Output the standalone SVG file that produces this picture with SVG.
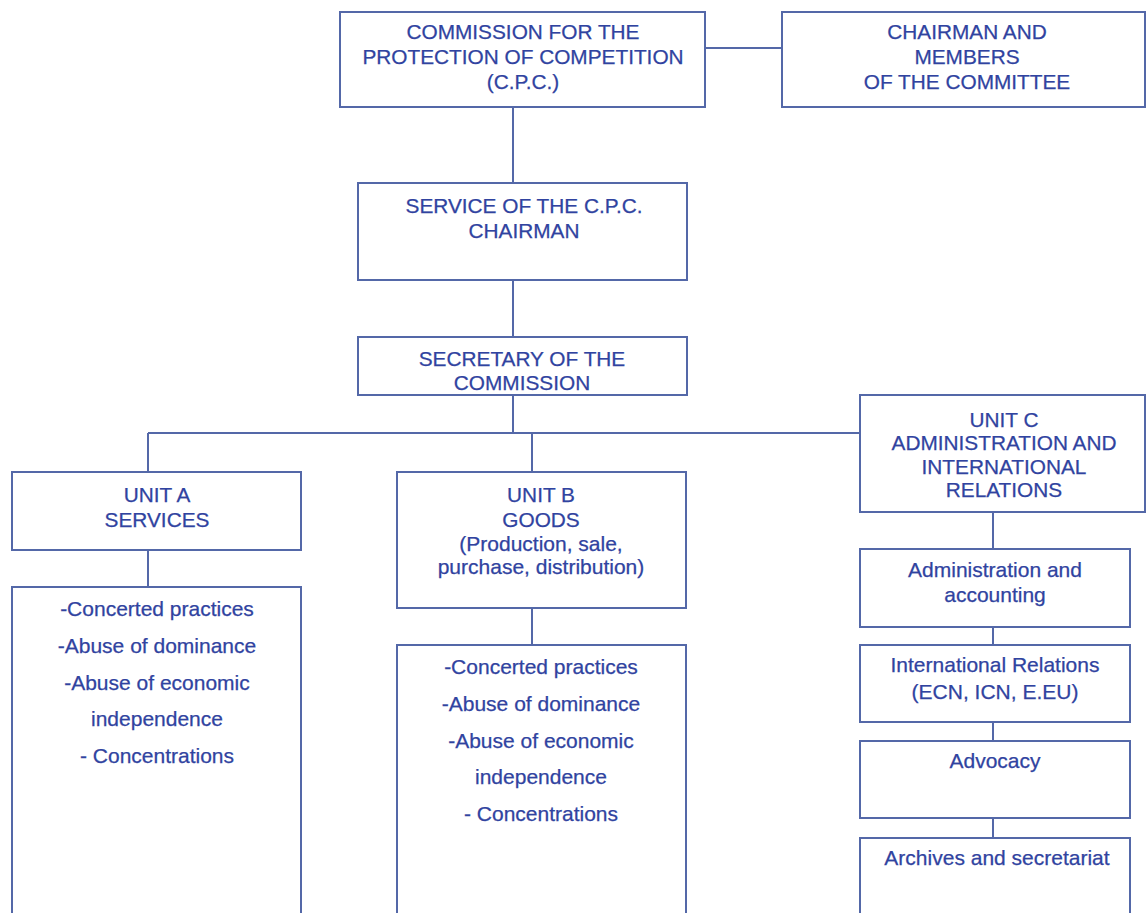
<svg xmlns="http://www.w3.org/2000/svg" width="1148" height="913" viewBox="0 0 1148 913">
<style>
.box{fill:#fff;stroke:#5468a8;stroke-width:2}
.ln{stroke:#5468a8;stroke-width:2;fill:none}
text{font-family:"Liberation Sans",Arial,sans-serif;fill:#3043a0;text-anchor:middle;stroke:#3043a0;stroke-width:0.25}
.c{font-size:20.8px}
.s{font-size:21px}
</style>
<rect width="1148" height="913" fill="#fff"/>
<g id="connectors">
<line class="ln" x1="705" y1="48" x2="782" y2="48"/>
<line class="ln" x1="513" y1="107" x2="513" y2="183"/>
<line class="ln" x1="513" y1="280" x2="513" y2="337"/>
<line class="ln" x1="513" y1="395" x2="513" y2="433"/>
<line class="ln" x1="148" y1="433" x2="860" y2="433"/>
<line class="ln" x1="148" y1="433" x2="148" y2="472"/>
<line class="ln" x1="532" y1="433" x2="532" y2="472"/>
<line class="ln" x1="148" y1="550" x2="148" y2="587"/>
<line class="ln" x1="532" y1="608" x2="532" y2="645"/>
<line class="ln" x1="993" y1="512" x2="993" y2="549"/>
<line class="ln" x1="993" y1="627" x2="993" y2="645"/>
<line class="ln" x1="993" y1="722" x2="993" y2="741"/>
<line class="ln" x1="993" y1="818" x2="993" y2="838"/>
</g>
<g id="cpc">
<rect class="box" x="340" y="12" width="365" height="95"/>
<text class="c" x="523" y="39">COMMISSION FOR THE</text>
<text class="c" x="523" y="64">PROTECTION OF COMPETITION</text>
<text class="c" x="523" y="89">(C.P.C.)</text>
</g>
<g id="chairman">
<rect class="box" x="782" y="12" width="363" height="95"/>
<text class="c" x="967" y="39">CHAIRMAN AND</text>
<text class="c" x="967" y="64">MEMBERS</text>
<text class="c" x="967" y="89">OF THE COMMITTEE</text>
</g>
<g id="service">
<rect class="box" x="358" y="183" width="329" height="97"/>
<text class="c" x="524" y="213">SERVICE OF THE C.P.C.</text>
<text class="c" x="524" y="238">CHAIRMAN</text>
</g>
<g id="secretary">
<rect class="box" x="358" y="337" width="329" height="58"/>
<text class="c" x="522" y="366">SECRETARY OF THE</text>
<text class="c" x="522" y="390">COMMISSION</text>
</g>
<g id="unitA">
<rect class="box" x="12" y="472" width="289" height="78"/>
<text class="c" x="157" y="502">UNIT A</text>
<text class="c" x="157" y="527">SERVICES</text>
</g>
<g id="unitA-list">
<rect class="box" x="12" y="587" width="289" height="330"/>
<text class="s" x="157" y="616">-Concerted practices</text>
<text class="s" x="157" y="653">-Abuse of dominance</text>
<text class="s" x="157" y="690">-Abuse of economic</text>
<text class="s" x="157" y="726">independence</text>
<text class="s" x="157" y="763">- Concentrations</text>
</g>
<g id="unitB">
<rect class="box" x="397" y="472" width="289" height="136"/>
<text class="c" x="541" y="502">UNIT B</text>
<text class="c" x="541" y="527">GOODS</text>
<text class="s" x="541" y="551">(Production, sale,</text>
<text class="s" x="541" y="574">purchase, distribution)</text>
</g>
<g id="unitB-list">
<rect class="box" x="397" y="645" width="289" height="272"/>
<text class="s" x="541" y="674">-Concerted practices</text>
<text class="s" x="541" y="711">-Abuse of dominance</text>
<text class="s" x="541" y="748">-Abuse of economic</text>
<text class="s" x="541" y="784">independence</text>
<text class="s" x="541" y="821">- Concentrations</text>
</g>
<g id="unitC">
<rect class="box" x="860" y="395" width="285" height="117"/>
<text class="c" x="1004" y="427">UNIT C</text>
<text class="c" x="1004" y="450">ADMINISTRATION AND</text>
<text class="c" x="1004" y="474">INTERNATIONAL</text>
<text class="c" x="1004" y="497">RELATIONS</text>
</g>
<g id="admin">
<rect class="box" x="860" y="549" width="270" height="78"/>
<text class="s" x="995" y="577">Administration and</text>
<text class="s" x="995" y="602">accounting</text>
</g>
<g id="intl">
<rect class="box" x="860" y="645" width="270" height="77"/>
<text class="s" x="995" y="672">International Relations</text>
<text class="s" x="995" y="699">(ECN, ICN, E.EU)</text>
</g>
<g id="advocacy">
<rect class="box" x="860" y="741" width="270" height="77"/>
<text class="s" x="995" y="768">Advocacy</text>
</g>
<g id="archives">
<rect class="box" x="860" y="838" width="270" height="79"/>
<text class="s" x="997" y="865">Archives and secretariat</text>
</g>
</svg>
